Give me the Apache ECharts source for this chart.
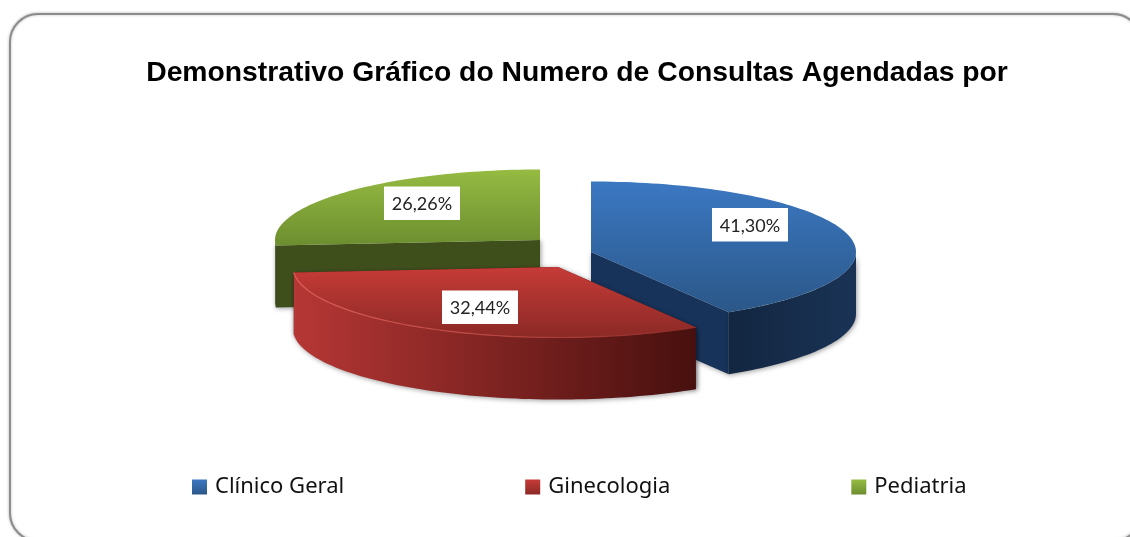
<!DOCTYPE html>
<html>
<head>
<meta charset="utf-8">
<style>html,body{margin:0;padding:0;background:#fff;overflow:hidden}#chart{width:1130px;height:537px}</style>
<script src="https://cdn.jsdelivr.net/npm/echarts@6/dist/echarts.min.js"></script>
</head>
<body>
<div id="chart"></div>
<script>
const titleText = 'Demonstrativo Gráfico do Numero de Consultas Agendadas por';
const categories = ['Clínico Geral', 'Ginecologia', 'Pediatria'];
const values = [41.30, 32.44, 26.26];

// Presentation only: one entry per category, in category order.
const slices = [
  { apex: [591, 252], box: [750, 225], top: ['#3b78c2', '#2b5788'], cut: '#17335a', wall: ['#122640', '#1a3355'], key: '#2f66a8', rim: null },
  { apex: [558, 267], box: [480, 307.5], top: ['#c63b37', '#8b2926'], cut: '#5c1715', wall: ['#b63735', '#47100e'], key: '#b23431', rim: ['#e0605a', '#8f2c29'] },
  { apex: [540, 240], box: [422, 203.5], top: ['#95bb42', '#6d8e2f'], cut: '#3f4f1c', wall: ['#3f4f1c', '#3f4f1c'], key: '#84a83a', rim: null }
];
const RX = 265, RY = 70.5, DEPTH = 62;
const drawOrder = [2, 0, 1];
const total = values.reduce((a, b) => a + b, 0);

function startAngle(i) {
  return values.slice(0, i).reduce((a, b) => a + b, 0) / total * 360;
}
function rimPoint(apex, deg, drop) {
  const r = deg * Math.PI / 180;
  return [apex[0] + RX * Math.sin(r), apex[1] - RY * Math.cos(r) + drop];
}
function arc(apex, a0, a1, drop) {
  const pts = [], n = Math.max(2, Math.ceil(Math.abs(a1 - a0) / 1.5));
  for (let k = 0; k <= n; k++) pts.push(rimPoint(apex, a0 + (a1 - a0) * k / n, drop));
  return pts;
}
function lin(c0, c1, horizontal) {
  return { type: 'linear', x: 0, y: 0, x2: horizontal ? 1 : 0, y2: horizontal ? 0 : 1,
    colorStops: [{ offset: 0, color: c0 }, { offset: 1, color: c1 }] };
}
const shadow = { shadowBlur: 5, shadowColor: 'rgba(0,0,0,0.4)', shadowOffsetX: 1, shadowOffsetY: 1 };

function sliceSeries(i) {
  const s = slices[i];
  return {
    type: 'custom',
    name: categories[i],
    coordinateSystem: 'none',
    silent: true,
    z: 2 + drawOrder.indexOf(i),
    itemStyle: { color: s.key },
    data: [[values[i]]],
    renderItem: function (params, api) {
      const a0 = startAngle(i), a1 = a0 + api.value(0) / total * 360;
      const p = s.apex, children = [];
      [a0, a1].forEach(function (a) {
        const rim = rimPoint(p, a, 0), low = rimPoint(p, a, DEPTH);
        children.push({ type: 'polygon', shape: { points: [p, rim, low, [p[0], p[1] + DEPTH]] },
          style: Object.assign({ fill: s.cut }, shadow) });
      });
      const v0 = Math.max(a0, 90), v1 = Math.min(a1, 270);
      if (v1 > v0) {
        const upper = arc(p, v0, v1, 0), lower = arc(p, v1, v0, DEPTH);
        children.push({ type: 'polygon', shape: { points: upper.concat(lower) },
          style: Object.assign({ fill: lin(s.wall[0], s.wall[1], true) }, shadow) });
      }
      const topPts = [p].concat(arc(p, a0, a1, 0));
      children.push({ type: 'polygon', shape: { points: topPts }, style: { fill: lin(s.top[0], s.top[1], false) } });
      if (s.rim) children.push({ type: 'polyline', shape: { points: arc(p, a0, a1, 0) },
        style: { stroke: lin(s.rim[0], s.rim[1], true), lineWidth: 1.2, fill: null } });
      children.push({ type: 'rect', shape: { x: s.box[0] - 38, y: s.box[1] - 17, width: 76, height: 33.5 }, style: { fill: '#fff' } });
      children.push({ type: 'text', style: {
        text: api.value(0).toFixed(2).replace('.', ',') + '%',
        x: s.box[0], y: s.box[1] + 1, align: 'center', verticalAlign: 'middle',
        fill: '#222', font: '18px Lato' } });
      return { type: 'group', children: children };
    }
  };
}

const chart = echarts.init(document.getElementById('chart'), null, { renderer: 'canvas' });
chart.setOption({
  animation: false,
  backgroundColor: '#fff',
  title: { text: titleText, left: 577, top: 59, padding: 0, textAlign: 'center',
    textStyle: { fontFamily: 'Liberation Sans', fontWeight: 'bold', fontSize: 28.3, color: '#000' } },
  legend: {
    left: 192, top: 476, padding: 0, itemGap: 181, itemWidth: 15, itemHeight: 15,
    icon: 'rect', selectedMode: false,
    textStyle: { fontFamily: 'Noto Sans', fontSize: 22, color: '#111', padding: [0, 0, 0, 3] },
    data: categories.map(function (c, i) {
      return { name: c, itemStyle: { color: lin(slices[i].top[0], slices[i].top[1], false) } };
    })
  },
  graphic: [{ type: 'rect', z: -1, silent: true,
    shape: { x: 10, y: 14, width: 1131, height: 527, r: 28 },
    style: { fill: '#fff', stroke: '#8c8c8c', lineWidth: 2, shadowBlur: 3, shadowColor: 'rgba(0,0,0,0.25)' } }],
  series: categories.map(function (c, i) { return sliceSeries(i); })
});
</script>
</body>
</html>
